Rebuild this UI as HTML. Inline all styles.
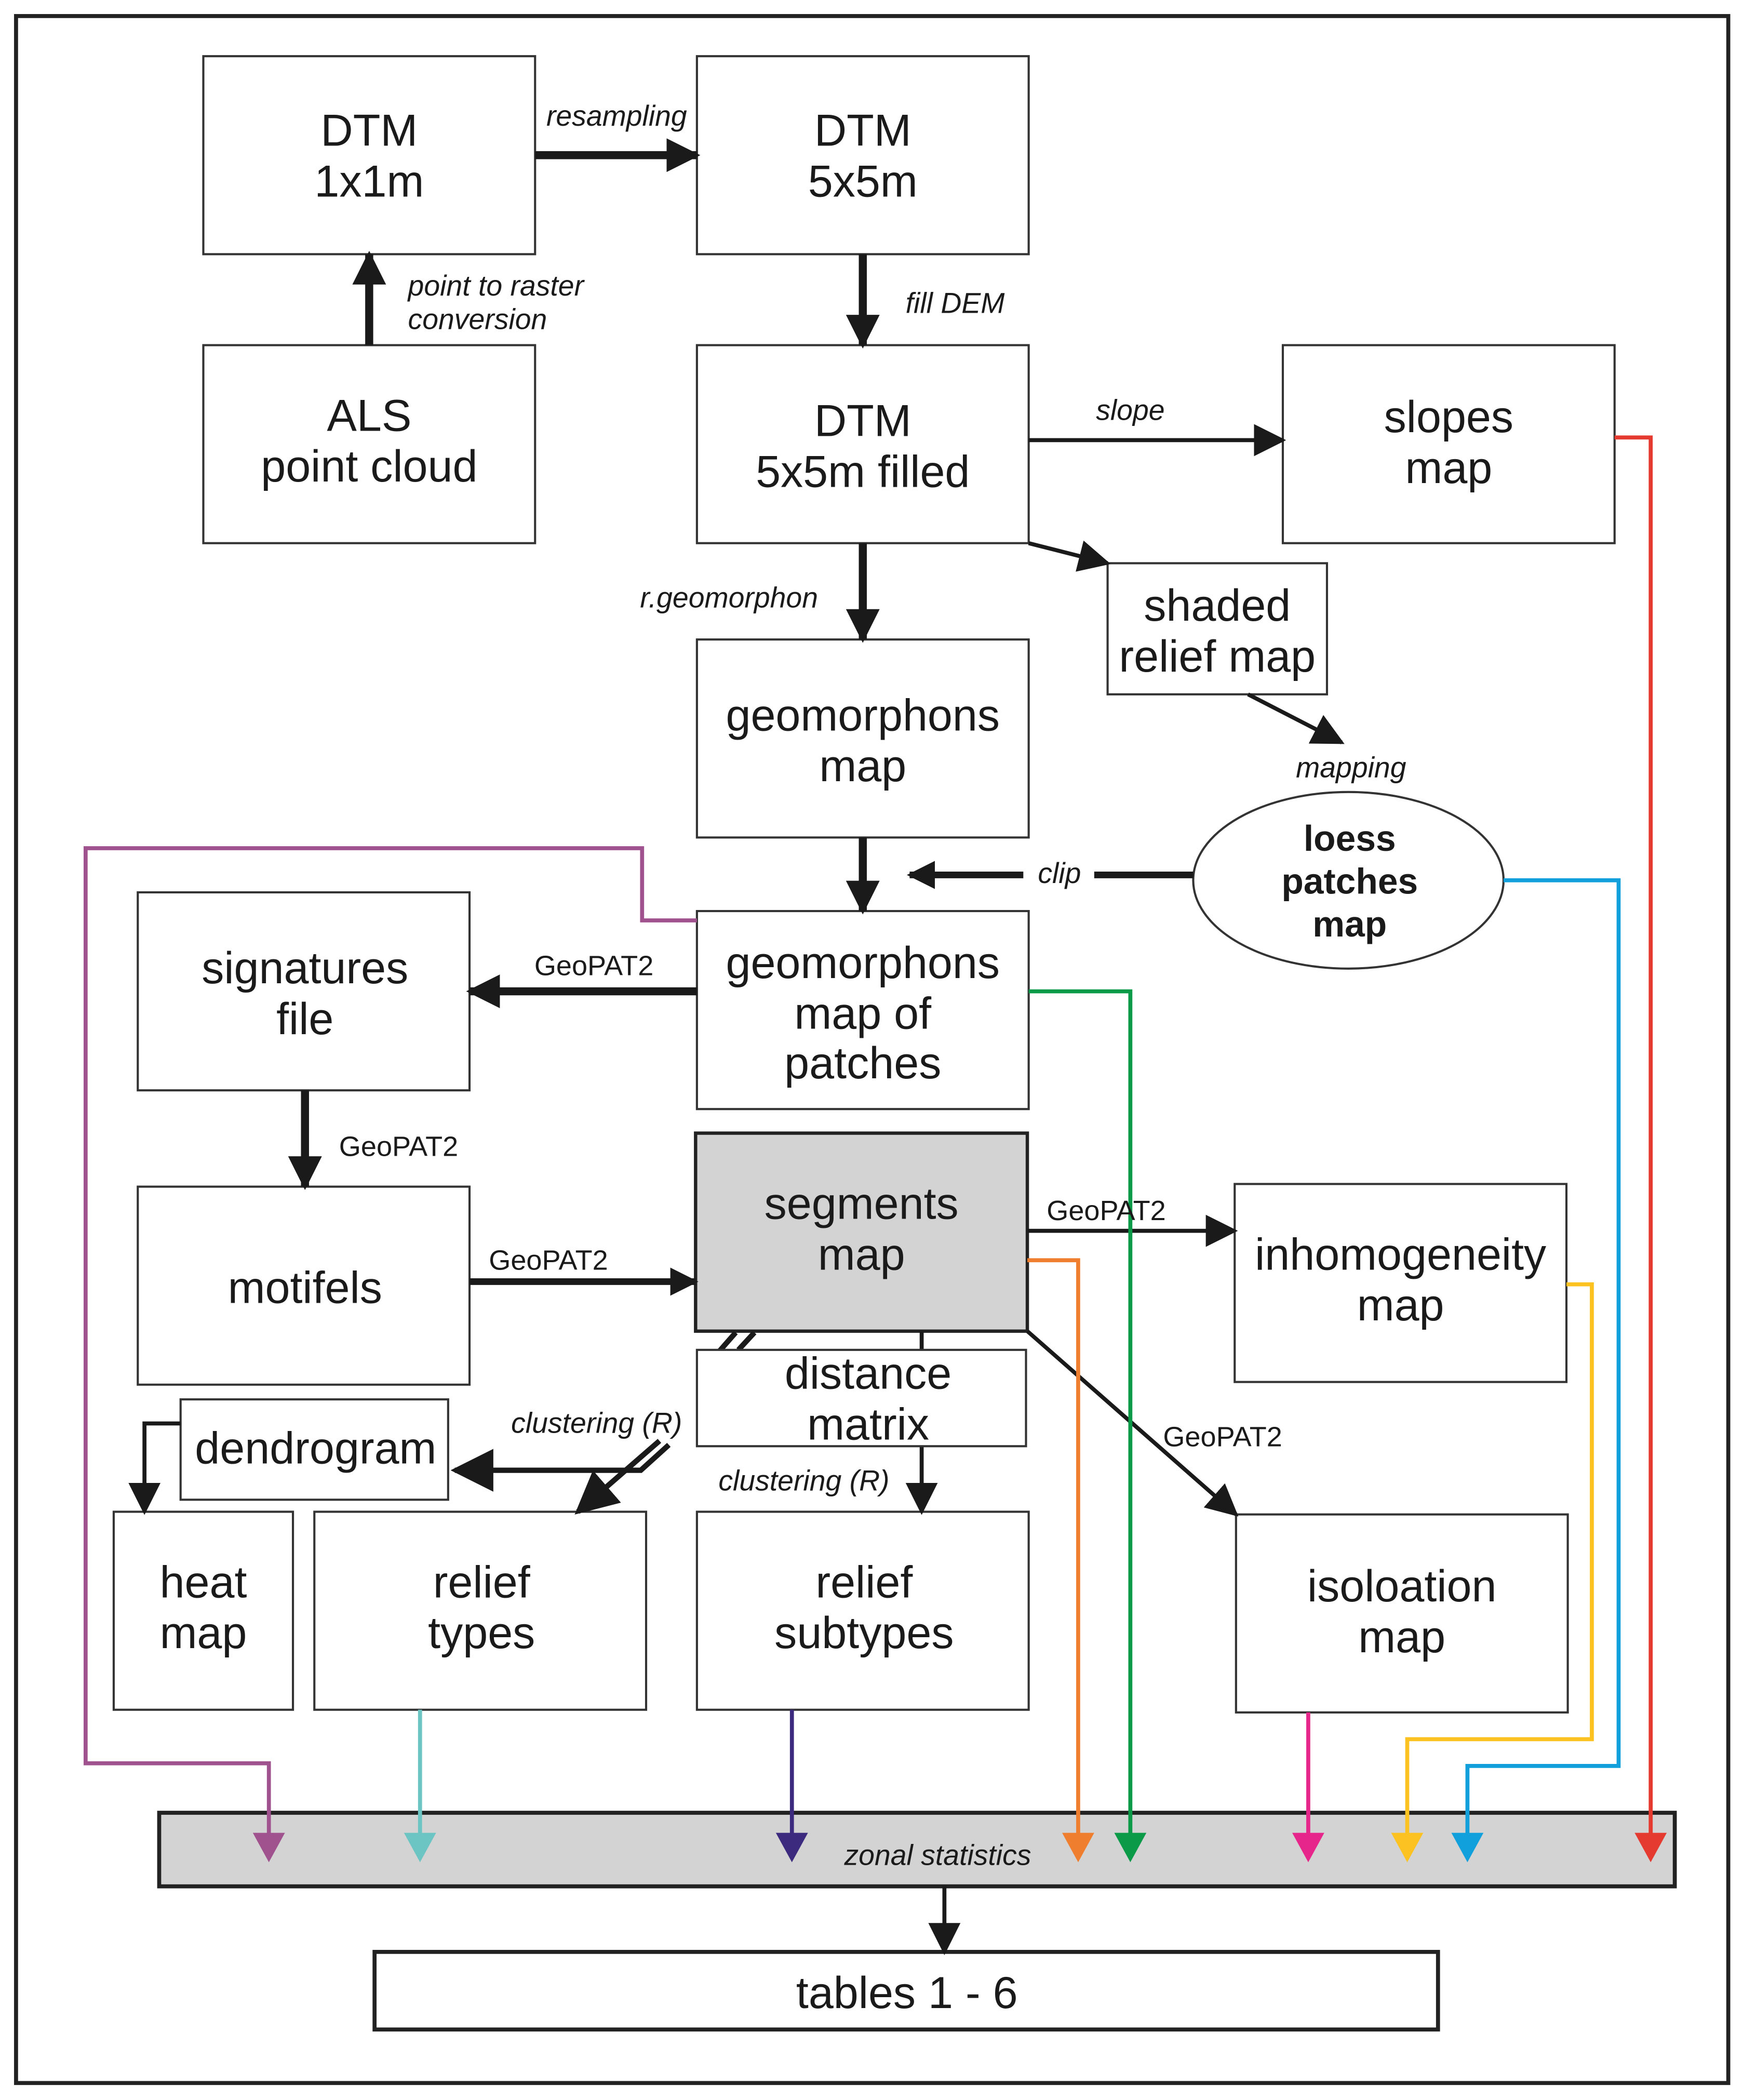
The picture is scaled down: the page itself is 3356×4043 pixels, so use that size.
<!DOCTYPE html>
<html><head><meta charset="utf-8"><style>html,body{margin:0;padding:0;background:#fff}svg{display:block}</style></head><body>
<svg xmlns="http://www.w3.org/2000/svg" width="3356" height="4043" viewBox="0 0 1303 1569.7" preserveAspectRatio="none" font-family="Liberation Sans, sans-serif">
<defs>
<marker id="ab" viewBox="0 0 10 10" refX="9" refY="5" markerWidth="4.2" markerHeight="4.2" orient="auto" markerUnits="strokeWidth"><path d="M0,0L10,5L0,10z" fill="#1a1a1a"/></marker>
<marker id="as" viewBox="0 0 10 10" refX="9" refY="5" markerWidth="8" markerHeight="8" orient="auto" markerUnits="strokeWidth"><path d="M0,0L10,5L0,10z" fill="#1a1a1a"/></marker>
</defs>
<rect width="1303" height="1570" fill="#fff"/>
<rect x="12" y="12" width="1280" height="1545" fill="none" stroke="#222" stroke-width="3"/>
<g fill="#fff" stroke="#333" stroke-width="1.6">
<rect x="152" y="42" width="248" height="148"/>
<rect x="521" y="42" width="248" height="148"/>
<rect x="152" y="258" width="248" height="148"/>
<rect x="521" y="258" width="248" height="148"/>
<rect x="959" y="258" width="248" height="148"/>
<rect x="828" y="421" width="164" height="98"/>
<rect x="521" y="478" width="248" height="148"/>
<ellipse cx="1008" cy="658" rx="116" ry="66"/>
<rect x="521" y="681" width="248" height="148"/>
<rect x="103" y="667" width="248" height="148"/>
<rect x="103" y="887" width="248" height="148"/>
<rect x="923" y="885" width="248" height="148"/>
<rect x="135" y="1046" width="200" height="75"/>
<rect x="85" y="1130" width="134" height="148"/>
<rect x="235" y="1130" width="248" height="148"/>
<rect x="521" y="1130" width="248" height="148"/>
<rect x="924" y="1132" width="248" height="148"/>
</g>
<rect x="520" y="847" width="248" height="148" fill="#d3d3d3" stroke="#222" stroke-width="2.5"/>
<rect x="119" y="1355" width="1133" height="55" fill="#d3d3d3" stroke="#222" stroke-width="3"/>
<rect x="280" y="1459" width="795" height="58" fill="#fff" stroke="#222" stroke-width="3"/>
<g stroke="#1a1a1a" fill="none">
<line x1="400" y1="116" x2="521" y2="116" stroke-width="6" marker-end="url(#ab)"/>
<line x1="276" y1="258" x2="276" y2="190" stroke-width="6" marker-end="url(#ab)"/>
<line x1="645" y1="190" x2="645" y2="258" stroke-width="6" marker-end="url(#ab)"/>
<line x1="769" y1="329" x2="959" y2="329" stroke-width="3" marker-end="url(#as)"/>
<line x1="769" y1="406" x2="828" y2="421" stroke-width="3" marker-end="url(#as)"/>
<line x1="645" y1="406" x2="645" y2="478" stroke-width="6" marker-end="url(#ab)"/>
<line x1="933" y1="519" x2="1003" y2="555" stroke-width="3" marker-end="url(#as)"/>
<line x1="645" y1="626" x2="645" y2="681" stroke-width="6" marker-end="url(#ab)"/>
<line x1="892" y1="654" x2="818" y2="654" stroke-width="5"/>
<line x1="765" y1="654" x2="680" y2="654" stroke-width="5" marker-end="url(#ab)"/>
<line x1="521" y1="741" x2="351" y2="741" stroke-width="6" marker-end="url(#ab)"/>
<line x1="228" y1="815" x2="228" y2="887" stroke-width="6" marker-end="url(#ab)"/>
<line x1="351" y1="958" x2="520" y2="958" stroke-width="5" marker-end="url(#ab)"/>
<line x1="768" y1="920" x2="923" y2="920" stroke-width="3" marker-end="url(#as)"/>
<line x1="768" y1="995" x2="924" y2="1132" stroke-width="3" marker-end="url(#as)"/>
<line x1="689" y1="995" x2="689" y2="1009" stroke-width="3"/>
<line x1="689" y1="1081" x2="689" y2="1130" stroke-width="3" marker-end="url(#as)"/>
<line x1="550" y1="996" x2="522" y2="1028" stroke-width="4"/>
<line x1="564" y1="996" x2="552" y2="1009" stroke-width="4"/>
<line x1="493" y1="1077" x2="432" y2="1130" stroke-width="4" marker-end="url(#as)"/>
<path d="M500,1080 L479,1099 L340,1099" stroke-width="4" marker-end="url(#as)"/>
<path d="M135,1064 L108,1064 L108,1130" stroke-width="3" marker-end="url(#as)"/>
<line x1="706" y1="1410" x2="706" y2="1459" stroke-width="3" marker-end="url(#as)"/>
</g>
<rect x="521" y="1009" width="246" height="72" fill="#fff" stroke="#333" stroke-width="1.6"/>
<g fill="none" stroke-width="3">
<path d="M521,688 L480,688 L480,634 L64,634 L64,1318 L201,1318 L201,1372" stroke="#a0528f"/>
<path d="M314,1278 L314,1372" stroke="#6cc5c3"/>
<path d="M592,1278 L592,1372" stroke="#3c2a7e"/>
<path d="M768,942 L806,942 L806,1372" stroke="#ef7f2e"/>
<path d="M769,741 L845,741 L845,1372" stroke="#0a9a48"/>
<path d="M978,1280 L978,1372" stroke="#e6268a"/>
<path d="M1171,960 L1190,960 L1190,1300 L1052,1300 L1052,1372" stroke="#fcc222"/>
<path d="M1124,658 L1210,658 L1210,1320 L1097,1320 L1097,1372" stroke="#11a0dc"/>
<path d="M1207,327 L1234,327 L1234,1372" stroke="#e53a2f"/>
</g>
<g>
<path d="M189,1370h24l-12,22z" fill="#a0528f"/>
<path d="M302,1370h24l-12,22z" fill="#6cc5c3"/>
<path d="M580,1370h24l-12,22z" fill="#3c2a7e"/>
<path d="M794,1370h24l-12,22z" fill="#ef7f2e"/>
<path d="M833,1370h24l-12,22z" fill="#0a9a48"/>
<path d="M966,1370h24l-12,22z" fill="#e6268a"/>
<path d="M1040,1370h24l-12,22z" fill="#fcc222"/>
<path d="M1085,1370h24l-12,22z" fill="#11a0dc"/>
<path d="M1222,1370h24l-12,22z" fill="#e53a2f"/>
</g>
<g font-size="33.5" text-anchor="middle" fill="#1a1a1a">
<text x="276" y="109">DTM</text><text x="276" y="147">1x1m</text>
<text x="645" y="109">DTM</text><text x="645" y="147">5x5m</text>
<text x="276" y="322">ALS</text><text x="276" y="360">point cloud</text>
<text x="645" y="326">DTM</text><text x="645" y="364">5x5m filled</text>
<text x="1083" y="323">slopes</text><text x="1083" y="361">map</text>
<text x="910" y="464">shaded</text><text x="910" y="502">relief map</text>
<text x="645" y="546">geomorphons</text><text x="645" y="584">map</text>
<text x="645" y="731">geomorphons</text><text x="645" y="769">map of</text><text x="645" y="806">patches</text>
<text x="228" y="735">signatures</text><text x="228" y="773">file</text>
<text x="228" y="974">motifels</text>
<text x="644" y="911">segments</text><text x="644" y="949">map</text>
<text x="1047" y="949">inhomogeneity</text><text x="1047" y="987">map</text>
<text x="649" y="1038">distance</text><text x="649" y="1076">matrix</text>
<text x="236" y="1094">dendrogram</text>
<text x="152" y="1194">heat</text><text x="152" y="1232">map</text>
<text x="360" y="1194">relief</text><text x="360" y="1232">types</text>
<text x="646" y="1194">relief</text><text x="646" y="1232">subtypes</text>
<text x="1048" y="1197">isoloation</text><text x="1048" y="1235">map</text>
<text x="678" y="1501">tables 1 - 6</text>
</g>
<g font-size="27" font-weight="bold" text-anchor="middle" fill="#1a1a1a">
<text x="1009" y="636">loess</text><text x="1009" y="668">patches</text><text x="1009" y="700">map</text>
</g>
<g font-size="21.5" font-style="italic" fill="#1a1a1a">
<text x="461" y="94" text-anchor="middle">resampling</text>
<text x="305" y="221">point to raster</text><text x="305" y="246">conversion</text>
<text x="677" y="234">fill DEM</text>
<text x="845" y="314" text-anchor="middle">slope</text>
<text x="545" y="454" text-anchor="middle">r.geomorphon</text>
<text x="1010" y="581" text-anchor="middle">mapping</text>
<text x="792" y="660" text-anchor="middle">clip</text>
<text x="446" y="1071" text-anchor="middle">clustering (R)</text>
<text x="601" y="1114" text-anchor="middle">clustering (R)</text>
<text x="701" y="1394" text-anchor="middle">zonal statistics</text>
</g>
<g font-size="21" fill="#1a1a1a" text-anchor="middle">
<text x="444" y="729">GeoPAT2</text>
<text x="298" y="864">GeoPAT2</text>
<text x="410" y="949">GeoPAT2</text>
<text x="827" y="912">GeoPAT2</text>
<text x="914" y="1081">GeoPAT2</text>
</g>
</svg>
</body></html>
